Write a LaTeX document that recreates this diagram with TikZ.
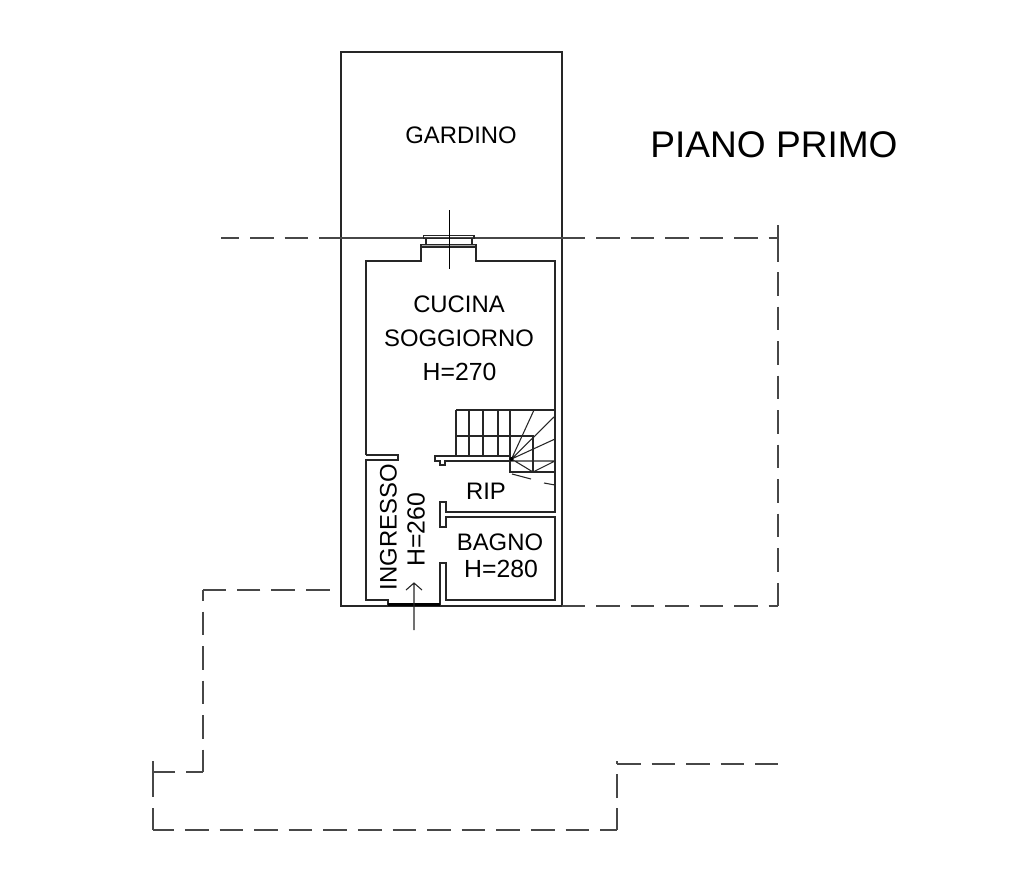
\documentclass[tikz,border=0pt]{standalone}
\usepackage{fontspec}
\setmainfont{Liberation Sans}
\tikzset{
  wall/.style={draw=black!85,line width=0.8pt,line join=miter},
  fine/.style={draw=black!85,line width=0.8pt},
  dashsolid/.style={draw=black!72,line width=1pt},
  hidden/.style={dashsolid,dash pattern=on 17.65pt off 8.25pt},
  lab/.style={font=\fontsize{17.9pt}{20pt}\selectfont,text=black,inner sep=0pt,align=center},
  hlab/.style={font=\fontsize{18.6pt}{20pt}\selectfont,text=black,inner sep=0pt,align=center},
  title/.style={font=\fontsize{27.8pt}{32pt}\selectfont,text=black,inner sep=0pt},
}
\begin{document}
\begin{tikzpicture}[x=0.75pt,y=-0.75pt]
\useasboundingbox (0,0) rectangle (1009,872);
\fill[white] (0,0) rectangle (1009,872);
% outer outline
\draw[wall] (341,606) -- (341,52) -- (562,52) -- (562,606) -- cycle;
% dashed footprints: upper line
\draw[hidden,dash phase=4.1pt] (221,238) -- (319,238);
\draw[dashsolid] (319,238) -- (585,238);
\draw[hidden] (596,238) -- (778,238);
% right side
\draw[dashsolid] (778,225) -- (778,262);
\draw[hidden] (778,272) -- (778,606);
\draw[dashsolid] (562,606) -- (585,606);
\draw[hidden] (596,606) -- (778,606);
% lower left
\draw[hidden] (329.5,590) -- (203,590);
\draw[hidden,dash phase=9.75pt] (203,590) -- (203,772);
\draw[hidden,dash phase=4.9pt] (203,772) -- (153,772);
\draw[dashsolid] (153,761) -- (153,797);
\draw[dashsolid] (153,808) -- (153,830);
\draw[dashsolid,dash pattern=on 17.7pt off 8.25pt,dash phase=2pt] (153,830) -- (617,830);
\draw[dashsolid] (617,830) -- (617,808);
\draw[dashsolid] (617,798) -- (617,774);
\draw[dashsolid] (617,764) -- (617,761);
\draw[hidden] (617,764) -- (778,764);
% main room
\draw[wall] (366,455) -- (366,261) -- (421,261) -- (421,247) (476,247) -- (476,261) -- (555,261) -- (555,512) -- (446,512) -- (446,502) -- (440,502) -- (440,527) -- (446,527) -- (446,517) -- (555,517) -- (555,600) -- (446,600) -- (446,563) -- (440,563) -- (440,606);
\draw[wall] (366,455) -- (398,455) -- (398,460) -- (366,460) -- (366,600) -- (388,600) -- (388,606);
% door
\draw[draw=black,line width=1.8pt] (388,604.5) -- (440,604.5);
% window
\draw[wall,fill=black!35] (421,244.5) rectangle (476,247);
\draw[wall] (423.5,235.5) rectangle (474,238.5);
\draw[wall] (426,238.5) -- (426,244.5) (472,238.5) -- (472,244.5);
\draw[fine,draw=black] (449.4,210) -- (449.4,268.5);
% entrance arrow
\coordinate (arrowtail) at (414,630);
\coordinate (arrowhead) at (414,583);
\draw[fine] (arrowtail) -- (arrowhead) (406,590) -- (arrowhead) -- (422,590);
% stairs
\draw[wall] (456,456) -- (435,456) -- (435,461) -- (440,461) -- (440,465) -- (445,465) -- (445,461) -- (511,461);
\draw[wall] (456,456) -- (510,456);
\draw[fine] (456,410) -- (555,410);
\draw[fine] (455,436) -- (533,436) -- (533,472);
\draw[fine] (456,410) -- (456,456) (469,410) -- (469,456) (483,410) -- (483,456) (498,410) -- (498,456) (510,410) -- (510,472) -- (555,472);
\draw[fine] (511.5,459) -- (534,410) (511.5,459) -- (555,416) (511.5,459) -- (555,439) (511,461) -- (555,461) (511.5,459) -- (533,472) -- (555,461);
\draw[fine] (512,474) -- (531,479) (544,483) -- (555,485);
\fill[black] (511.5,459) circle (2);
% labels
\node[lab] (gardino) at (461,135) {GARDINO};
\node[title] (piano) at (774,145) {PIANO PRIMO};
\node[lab] (cucina) at (459,304) {CUCINA};
\node[lab] (soggiorno) at (459,338) {SOGGIORNO};
\node[hlab] (h270) at (459.5,372) {H=270};
\node[lab] (rip) at (486,491) {RIP};
\node[lab] (bagno) at (500,542) {BAGNO};
\node[hlab] (h280) at (501,569) {H=280};
\node[lab,rotate=90] (ingresso) at (388.5,527) {INGRESSO};
\node[hlab,rotate=90] (h260) at (416,530) {H=260};
\end{tikzpicture}
\end{document}
